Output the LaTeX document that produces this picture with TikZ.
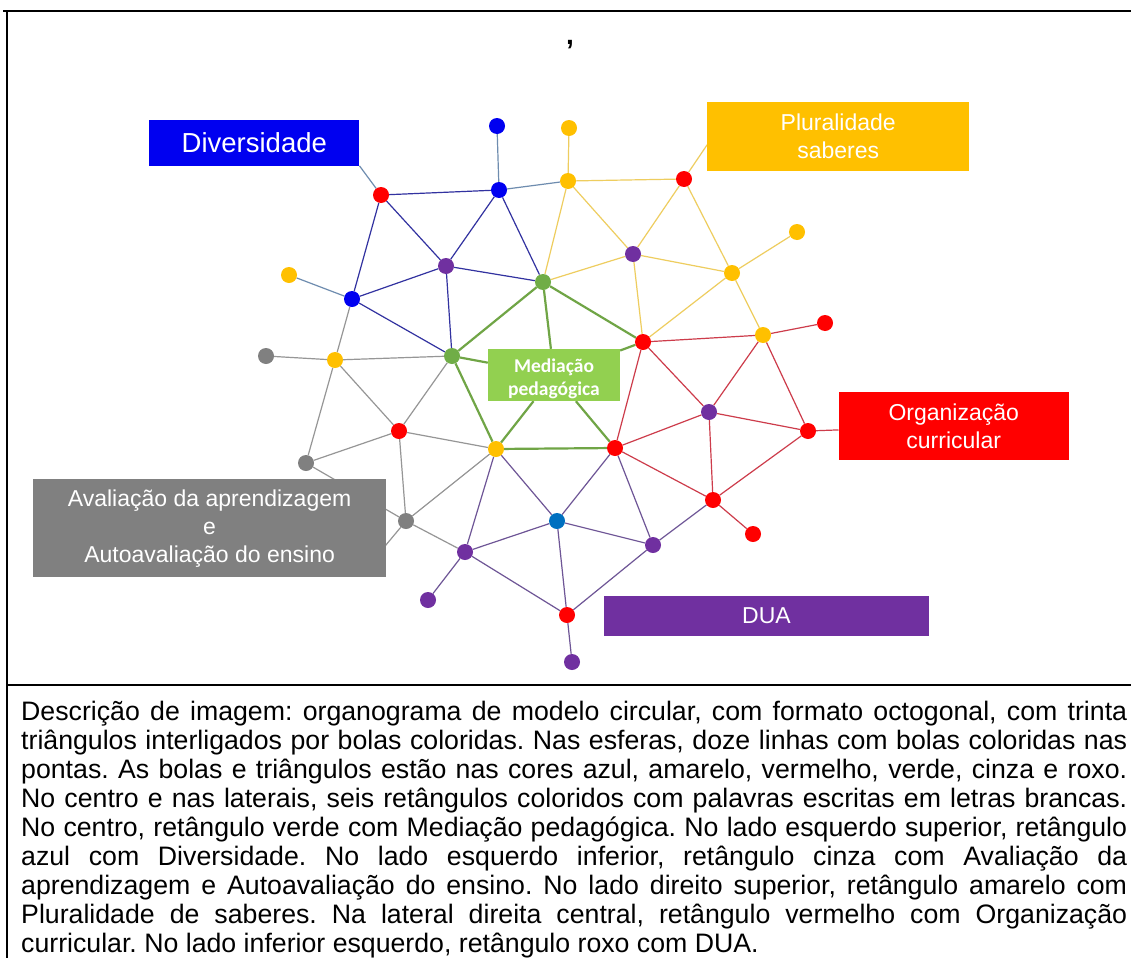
\documentclass[tikz,border=0pt]{standalone}
\usepackage{fontspec}
\setmainfont{Liberation Sans}
\newfontfamily\carl{Carlito}
\usetikzlibrary{backgrounds}
\definecolor{cRed}{RGB}{255,0,0}
\definecolor{cBlue}{RGB}{0,0,240}
\definecolor{cBlueL}{RGB}{0,112,192}
\definecolor{cYel}{RGB}{255,192,0}
\definecolor{cPur}{RGB}{112,48,160}
\definecolor{cGrn}{RGB}{112,173,71}
\definecolor{cGry}{RGB}{128,128,128}
\definecolor{cMed}{RGB}{146,208,80}
\definecolor{lBlue}{RGB}{50,50,160}
\definecolor{lSlate}{RGB}{110,140,175}
\definecolor{lYel}{RGB}{238,205,95}
\definecolor{lGrn}{RGB}{112,165,70}
\definecolor{lRed}{RGB}{205,60,75}
\definecolor{lPur}{RGB}{110,85,150}
\definecolor{lGry}{RGB}{150,150,150}
\begin{document}
\begin{tikzpicture}[x=1pt,y=-1pt,
  dot/.style={circle,inner sep=0pt,minimum size=16pt,fill=#1},
  lab/.style={fill=#1,text=white,inner sep=0pt,align=center},
  eblue/.style={draw=lBlue,line width=1.2pt},
  eslate/.style={draw=lSlate,line width=1.2pt},
  egray/.style={draw=lGry,line width=1.2pt},
  eyel/.style={draw=lYel,line width=1.2pt},
  egrn/.style={draw=lGrn,line width=2.2pt},
  ered/.style={draw=lRed,line width=1.2pt},
  epur/.style={draw=lPur,line width=1.2pt},
  borderline/.style={draw=black,line width=2pt}]
\useasboundingbox (0,0) rectangle (1131,958);
% boxes
\node[lab=cBlue,minimum width=210pt,minimum height=45.7pt,font=\fontsize{27.5}{32}\selectfont] (div) at (254.3,142.8) {Diversidade};
\node[lab=cYel,minimum width=261.6pt,minimum height=68.7pt,font=\fontsize{23}{28}\selectfont] (plu) at (838.2,136.7) {Pluralidade\\saberes};
\node[lab=cMed,minimum width=132pt,minimum height=52pt] (med) at (554,375) {};
\node[text=white,inner sep=0pt,align=center,font=\carl\bfseries\fontsize{19.5}{23.3}\selectfont] (medt) at (554,379) {Mediação\\pedagógica};
\node[lab=cRed,minimum width=230pt,minimum height=68.3pt,font=\fontsize{23}{28}\selectfont] (org) at (953.7,425.8) {Organização\\curricular};
\node[lab=cGry,minimum width=353.5pt,minimum height=98pt,font=\fontsize{23}{28}\selectfont] (aval) at (209.6,528.3) {Avaliação da aprendizagem\\e\\Autoavaliação do ensino};
\node[lab=cPur,minimum width=325.4pt,minimum height=40.3pt,font=\fontsize{23}{28}\selectfont] (dua) at (766.5,615.9) {DUA};
% dots
\node[dot=cBlue] (b1) at (497,126) {};
\node[dot=cYel] (y1) at (569,128) {};
\node[dot=cRed] (r1) at (381,195) {};
\node[dot=cBlue] (b2) at (499,190) {};
\node[dot=cYel] (y2) at (568,181) {};
\node[dot=cRed] (r2) at (684,179) {};
\node[dot=cYel] (y3) at (797,232) {};
\node[dot=cPur] (p1) at (446,266) {};
\node[dot=cPur] (p2) at (633,254) {};
\node[dot=cGrn] (g1) at (543,282) {};
\node[dot=cYel] (y4) at (732,273) {};
\node[dot=cYel] (y5) at (289,275) {};
\node[dot=cBlue] (b3) at (352,299) {};
\node[dot=cRed] (ro1) at (825,323) {};
\node[dot=cRed] (r3) at (643,342) {};
\node[dot=cYel] (y6) at (763,335) {};
\node[dot=cGry] (gr1) at (266,356) {};
\node[dot=cYel] (y7) at (335,360) {};
\node[dot=cGrn] (g2) at (452,356) {};
\node[dot=cPur] (p3) at (709,412) {};
\node[dot=cRed] (r4) at (808,431) {};
\node[dot=cRed] (r5) at (399,431) {};
\node[dot=cYel] (y8) at (496,449) {};
\node[dot=cRed] (r6) at (615,448) {};
\node[dot=cGry] (gr2) at (306,463) {};
\node[dot=cRed] (r7) at (713,500) {};
\node[dot=cGry] (gr3) at (406,521) {};
\node[dot=cBlueL] (b4) at (557,521) {};
\node[dot=cRed] (ro2) at (753,534) {};
\node[dot=cPur] (p4) at (465,552) {};
\node[dot=cPur] (p5) at (653,545) {};
\node[dot=cPur] (po1) at (428,600) {};
\node[dot=cRed] (r8) at (567,615) {};
\node[dot=cPur] (po2) at (572,662) {};
\coordinate (hid) at (365,570);
% texts
\node[anchor=base,inner sep=0pt,font=\bfseries\fontsize{28}{30}\selectfont] (comma) at (570,44.5) {,};
\node[anchor=north west,inner sep=0pt,text width=1106pt,align=justify,
  font=\fontsize{26.7}{29.1}\selectfont] (desc) at (21,699.6)
  {\frenchspacing\hyphenpenalty=10000\exhyphenpenalty=10000\tolerance=9999\strut Descrição de imagem: organograma de modelo circular, com formato octogonal, com trinta\linebreak
  triângulos interligados por bolas coloridas. Nas esferas, doze linhas com bolas coloridas nas\linebreak
  pontas. As bolas e triângulos estão nas cores azul, amarelo, vermelho, verde, cinza e roxo.\linebreak
  No centro e nas laterais, seis retângulos coloridos com palavras escritas em letras brancas.\linebreak
  No centro, retângulo verde com Mediação pedagógica. No lado esquerdo superior, retângulo\linebreak
  azul com Diversidade. No lado esquerdo inferior, retângulo cinza com Avaliação da\linebreak
  aprendizagem e Autoavaliação do ensino. No lado direito superior, retângulo amarelo com\linebreak
  Pluralidade de saberes. Na lateral direita central, retângulo vermelho com Organização\linebreak
  curricular. No lado inferior esquerdo, retângulo roxo com DUA.};
% frame
\draw[borderline] (3,11) -- (1131,11);
\draw[draw=black,line width=1.5pt] (7,11) -- (7,958);
\draw[borderline] (7,685) -- (1131,685);
\begin{pgfonlayer}{background}
\fill[white] (-10,-10) rectangle (1141,968);
% slate
\draw[eslate] (r1) -- (div.south east);
\draw[eslate] (b1) -- (b2);
\draw[eslate] (b2) -- (y2);
\draw[eslate] (y5) -- (b3);
% blue
\draw[eblue] (r1) -- (b2);
\draw[eblue] (r1) -- (b3);
\draw[eblue] (r1) -- (p1);
\draw[eblue] (b2) -- (p1);
\draw[eblue] (b2) -- (g1);
\draw[eblue] (p1) -- (g1);
\draw[eblue] (p1) -- (g2);
\draw[eblue] (b3) -- (p1);
\draw[eblue] (b3) -- (g2);
% gray
\draw[egray] (b3) -- (y7);
\draw[egray] (gr1) -- (y7);
\draw[egray] (y7) -- (g2);
\draw[egray] (y7) -- (gr2);
\draw[egray] (y7) -- (r5);
\draw[egray] (g2) -- (r5);
\draw[egray] (gr2) -- (r5);
\draw[egray] (gr2) -- (gr3);
\draw[egray] (r5) -- (gr3);
\draw[egray] (r5) -- (y8);
\draw[egray] (gr3) -- (y8);
\draw[egray] (gr3) -- (p4);
\draw[egray] (gr3) -- (hid);
% yellow
\draw[eyel] (y1) -- (y2);
\draw[eyel] (y2) -- (g1);
\draw[eyel] (y2) -- (r2);
\draw[eyel] (y2) -- (p2);
\draw[eyel] (g1) -- (p2);
\draw[eyel] (r2) -- (p2);
\draw[eyel] (r2) -- (y4);
\draw[eyel] (r2) -- ([yshift=-8pt]plu.west);
\draw[eyel] (p2) -- (y4);
\draw[eyel] (p2) -- (r3);
\draw[eyel] (y4) -- (r3);
\draw[eyel] (y4) -- (y3);
\draw[eyel] (y4) -- (y6);
% green
\draw[egrn] (g1) -- (g2);
\draw[egrn] (g1) -- (med);
\draw[egrn] (g1) -- (r3);
\draw[egrn] (g2) -- (med);
\draw[egrn] (g2) -- (y8);
\draw[egrn] (med) -- (r3);
\draw[egrn] (med) -- (y8);
\draw[egrn] (med) -- (r6);
\draw[egrn] (y8) -- (r6);
% red
\draw[ered] (r3) -- (y6);
\draw[ered] (r3) -- (r6);
\draw[ered] (r3) -- (p3);
\draw[ered] (y6) -- (ro1);
\draw[ered] (y6) -- (p3);
\draw[ered] (y6) -- (r4);
\draw[ered] (p3) -- (r6);
\draw[ered] (p3) -- (r7);
\draw[ered] (p3) -- (r4);
\draw[ered] (r4) -- (r7);
\draw[ered] (r4) -- (org);
\draw[ered] (r6) -- (r7);
\draw[ered] (r7) -- (ro2);
% purple
\draw[epur] (y8) -- (p4);
\draw[epur] (y8) -- (b4);
\draw[epur] (p4) -- (b4);
\draw[epur] (p4) -- (po1);
\draw[epur] (p4) -- (r8);
\draw[epur] (b4) -- (r8);
\draw[epur] (b4) -- (p5);
\draw[epur] (b4) -- (r6);
\draw[epur] (r6) -- (p5);
\draw[epur] (p5) -- (r8);
\draw[epur] (p5) -- (r7);
\draw[epur] (r8) -- (po2);
\end{pgfonlayer}
\end{tikzpicture}
\end{document}
